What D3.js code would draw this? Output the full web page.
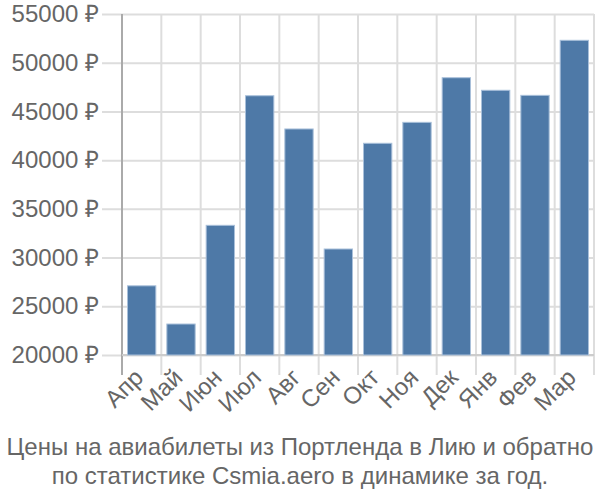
<!DOCTYPE html>
<html><head><meta charset="utf-8">
<script src="https://cdn.jsdelivr.net/npm/d3@7"></script>
<style>body{margin:0;background:#fff}svg{display:block}</style>
</head><body>
<script>
const categories = ["Апр","Май","Июн","Июл","Авг","Сен","Окт","Ноя","Дек","Янв","Фев","Мар"];
const values = [27100,23180,33310,46610,43200,30880,41730,43880,48460,47170,46650,52300];
const yTicks = [20000,25000,30000,35000,40000,45000,50000,55000];
const titleLines = ["Цены на авиабилеты из Портленда в Лию и обратно","по статистике Csmia.aero в динамике за год."];

(function(){
const W=600,H=500, mL=122, mR=594, mT=14, mB=355;
const svg=d3.select("body").append("svg").attr("width",W).attr("height",H);
const font="'Liberation Sans', Arial, sans-serif";
const x=d3.scaleBand().domain(categories).range([mL,mR]).paddingInner(0.28).paddingOuter(0.14);
const y=d3.scaleLinear().domain([20000,55000]).range([mB,mT]);

// horizontal grid + y ticks
const gy=svg.append("g").attr("transform",`translate(${mL},0)`)
 .call(d3.axisLeft(y).tickValues(yTicks).tickSize(20).tickPadding(4).tickFormat(d=>d+" ₽"));
gy.select(".domain").remove();
gy.selectAll(".tick line").attr("stroke","#ddd").attr("stroke-width",2).attr("x1",-20).attr("x2",mR-mL);
gy.selectAll(".tick text").attr("x",-23).attr("font-family",font).attr("font-size",24).attr("fill","#666");

// vertical grid at band boundaries
const bounds=d3.range(categories.length+1).map(i=>mL+i*(mR-mL)/categories.length);
svg.append("g").selectAll("line").data(bounds).join("line")
 .attr("x1",d=>d).attr("x2",d=>d).attr("y1",mT).attr("y2",mB+20)
 .attr("stroke",(d,i)=>i===0?"#aaa":"#ddd").attr("stroke-width",2);
svg.append("line").attr("x1",mL).attr("x2",mR).attr("y1",mB).attr("y2",mB).attr("stroke","#ccc").attr("stroke-width",2);

// bars
svg.append("g").selectAll("rect").data(values).join("rect")
 .attr("x",(d,i)=>x(categories[i])).attr("width",x.bandwidth())
 .attr("y",d=>y(d)).attr("height",d=>mB-y(d))
 .attr("fill","#4e79a7").attr("stroke","#a9c0da").attr("stroke-width",1);

// x labels
const gx=svg.append("g").attr("transform",`translate(0,${mB})`)
 .call(d3.axisBottom(x).tickSize(0).tickPadding(0));
gx.select(".domain").remove();
gx.selectAll(".tick text").attr("font-family",font).attr("font-size",24).attr("fill","#666")
 .attr("text-anchor","end").attr("dy",0).attr("transform","translate(3,24) rotate(-45)");

// title
svg.append("g").selectAll("text").data(titleLines).join("text")
 .attr("x",300).attr("y",(d,i)=>455+i*29).attr("text-anchor","middle")
 .attr("font-family",font).attr("font-size",24).attr("fill","#666").text(d=>d);
})();
</script>
</body></html>
